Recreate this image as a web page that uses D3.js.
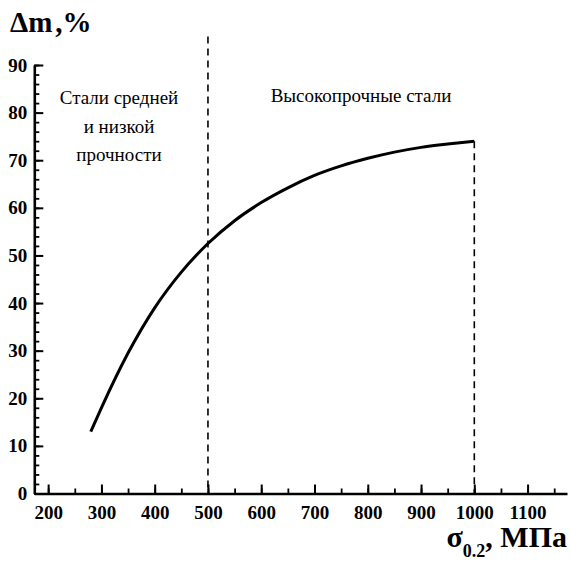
<!DOCTYPE html>
<html lang="ru">
<head>
  <meta charset="utf-8">
  <title>Δm vs σ0.2</title>
  <style>
    body { margin: 0; background: #fff; }
    svg text { fill: #000; }
    .axis text { font-size: 19px; font-weight: bold; }
    .axis path, .axis line { stroke: #000; }
  </style>
</head>
<body>
<div id="chart"></div>
<script src="https://d3js.org/d3.v7.min.js"></script>
<script>
  // data
  const strength = [280, 300, 350, 400, 450, 500, 550, 600, 650, 700, 750, 800, 850, 900, 950, 1000];
  const massLoss = [13, 18, 29.5, 39, 46.5, 52.5, 57.3, 61.1, 64.2, 66.8, 68.8, 70.4, 71.7, 72.7, 73.4, 74];
  const xTicks = [200, 300, 400, 500, 600, 700, 800, 900, 1000, 1100];
  const yTicks = [0, 10, 20, 30, 40, 50, 60, 70, 80, 90];
  const xMinor = d3.range(200, 1151, 50);
  const yMinor = d3.range(0, 91, 2);
  const borders = [500, 1000];

  const serif = "'Liberation Serif', 'DejaVu Serif', 'Times New Roman', serif";
  const width = 571, height = 569;

  const svg = d3.select("#chart")
    .append("svg")
    .attr("width", width)
    .attr("height", height);

  const x = d3.scaleLinear().domain([174, 1174]).range([34.3, 567]);
  const y = d3.scaleLinear().domain([0, 90]).range([493.5, 65]);

  // minor ticks
  svg.append("g")
    .attr("class", "axis")
    .attr("transform", `translate(0,${y(0)})`)
    .call(d3.axisBottom(x).tickValues(xMinor).tickSizeInner(-5).tickSizeOuter(0).tickFormat(""))
    .call(g => g.select(".domain").remove())
    .selectAll("line").attr("stroke-width", 1.8);

  svg.append("g")
    .attr("class", "axis")
    .attr("transform", `translate(${x(174)},0)`)
    .call(d3.axisLeft(y).tickValues(yMinor).tickSizeInner(-5).tickSizeOuter(0).tickFormat(""))
    .call(g => g.select(".domain").remove())
    .selectAll("line").attr("stroke-width", 1.8);

  // major ticks + labels
  const xAxis = svg.append("g")
    .attr("class", "axis")
    .attr("transform", `translate(0,${y(0)})`)
    .call(d3.axisBottom(x).tickValues(xTicks).tickFormat(d3.format("d"))
      .tickSizeInner(-9).tickSizeOuter(0).tickPadding(12));
  xAxis.selectAll("line").attr("stroke-width", 2);
  xAxis.select(".domain").attr("stroke-width", 2.6);

  const yAxis = svg.append("g")
    .attr("class", "axis")
    .attr("transform", `translate(${x(174)},0)`)
    .call(d3.axisLeft(y).tickValues(yTicks).tickFormat(d3.format("d"))
      .tickSizeInner(-9).tickSizeOuter(0).tickPadding(7));
  yAxis.selectAll("line").attr("stroke-width", 2);
  yAxis.select(".domain").attr("stroke-width", 2.6);

  // dashed borders between steel groups
  svg.append("line")
    .attr("x1", x(borders[0])).attr("x2", x(borders[0]))
    .attr("y1", y(96)).attr("y2", y(0))
    .attr("stroke", "#000").attr("stroke-width", 1.6)
    .attr("stroke-dasharray", "7,5");

  svg.append("line")
    .attr("x1", x(borders[1])).attr("x2", x(borders[1]))
    .attr("y1", y(massLoss[massLoss.length - 1])).attr("y2", y(0))
    .attr("stroke", "#000").attr("stroke-width", 1.6)
    .attr("stroke-dasharray", "7,5");

  // curve
  const line = d3.line()
    .x((d, i) => x(strength[i]))
    .y(d => y(d))
    .curve(d3.curveMonotoneX);

  svg.append("path")
    .datum(massLoss)
    .attr("d", line)
    .attr("fill", "none")
    .attr("stroke", "#000")
    .attr("stroke-width", 3);

  // region labels
  const left = svg.append("text")
    .attr("text-anchor", "middle")
    .style("font-size", "19px");
  ["Стали средней", "и низкой", "прочности"].forEach((t, i) => {
    left.append("tspan").attr("x", 119).attr("y", 104 + i * 28.5).text(t);
  });

  svg.append("text")
    .attr("x", 361).attr("y", 102)
    .attr("text-anchor", "middle")
    .style("font-size", "19px")
    .text("Высокопрочные стали");

  // axis titles
  const yt = svg.append("text")
    .attr("x", 10).attr("y", 32)
    .style("font-size", "29px").style("font-weight", "bold");
  yt.append("tspan").text("Δm");
  yt.append("tspan").attr("dx", 3).text(",%");

  const xt = svg.append("text")
    .attr("x", 567).attr("y", 547)
    .attr("text-anchor", "end")
    .style("font-size", "30px").style("font-weight", "bold");
  xt.append("tspan").text("σ");
  xt.append("tspan").attr("dy", 10).style("font-size", "18px").text("0.2");
  xt.append("tspan").attr("dy", -10).text(", МПа");

  svg.selectAll("text").style("font-family", serif);
</script>
</body>
</html>
